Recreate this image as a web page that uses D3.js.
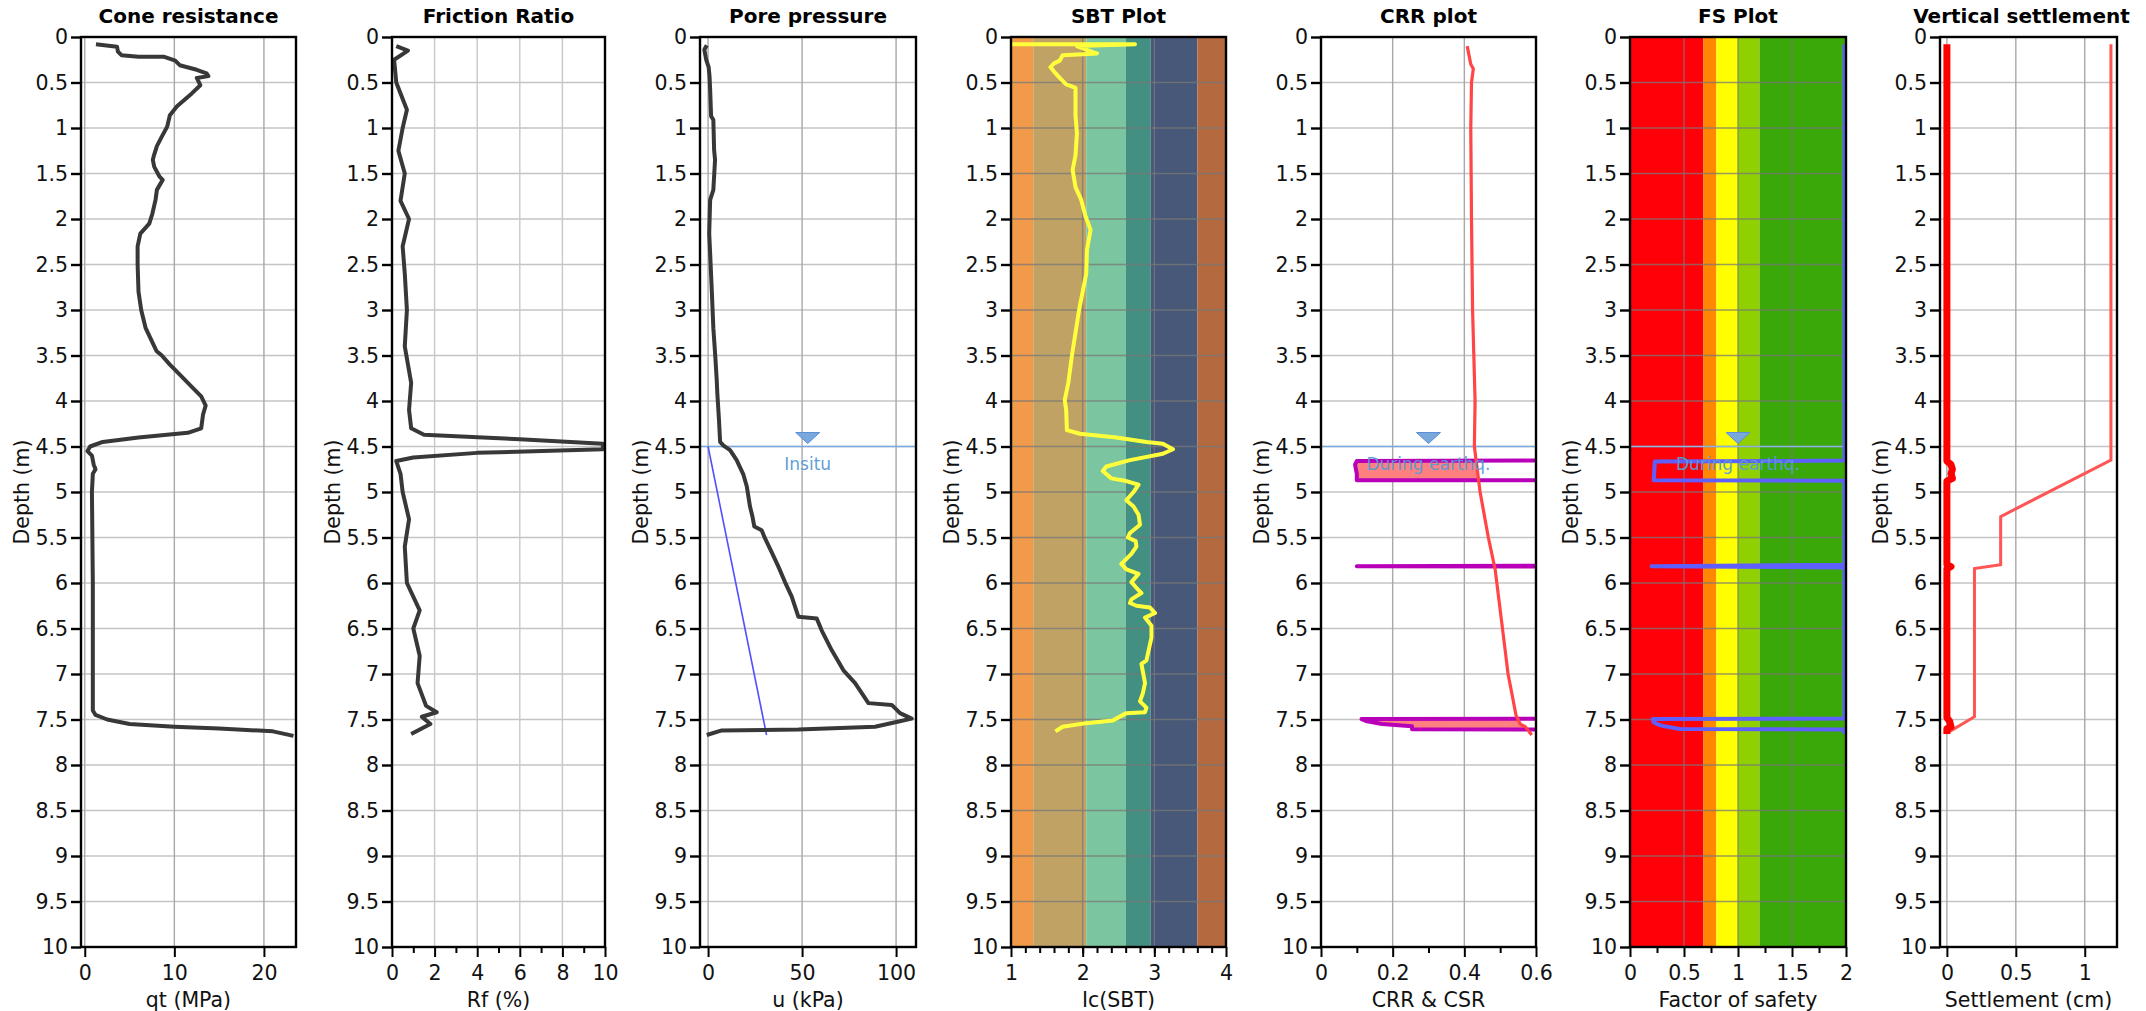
<!DOCTYPE html>
<html><head><meta charset="utf-8">
<script src="https://cdn.jsdelivr.net/npm/d3@7"></script>
<style>
html,body{margin:0;padding:0;background:#fff;}
svg{display:block;font-family:"DejaVu Sans",Verdana,sans-serif;}
</style></head><body>
<svg id="chart" width="2146" height="1011"></svg>
<script>
// ---------------- DATA ----------------
const depthTicks = [0,0.5,1,1.5,2,2.5,3,3.5,4,4.5,5,5.5,6,6.5,7,7.5,8,8.5,9,9.5,10];
const coneTicks = [0,10,20];
const rfTicks = [0,2,4,6,8,10];
const uTicks = [0,50,100];
const icTicks = [1,2,3,4];
const crrTicks = [0,0.2,0.4,0.6];
const fsTicks = [0,0.5,1,1.5,2];
const settleTicks = [0,0.5,1];

// [depth (m), qt (MPa)]
const coneResistance = [[0.08,1.25],[0.107,3.6],[0.16,3.7],[0.2,4.1],[0.216,6],[0.216,8.8],[0.26,10.1],[0.31,10.6],[0.36,12.5],[0.40,13.6],[0.43,13.8],[0.45,12.5],[0.53,12.9],[0.62,11.95],[0.76,10.3],[0.86,9.5],[0.985,9.2],[1.095,8.6],[1.2,8.05],[1.31,7.7],[1.35,7.6],[1.425,7.75],[1.535,8.35],[1.57,8.7],[1.68,8.05],[1.79,7.9],[1.94,7.55],[2.05,7.2],[2.16,6.2],[2.3,5.9],[2.5,5.9],[2.8,6.0],[3.0,6.3],[3.2,6.8],[3.45,8.0],[3.5,8.6],[3.6,9.5],[3.7,10.5],[3.85,12.0],[3.95,13.0],[4.05,13.5],[4.15,13.2],[4.3,13.0],[4.35,11.5],[4.4,6],[4.45,2],[4.5,0.6],[4.55,0.3],[4.6,0.8],[4.7,1.0],[4.75,1.2],[4.8,0.9],[5.0,0.8],[6.0,0.9],[7.0,0.9],[7.4,0.9],[7.45,1.2],[7.5,2.5],[7.55,5],[7.58,10],[7.6,15],[7.63,21],[7.68,23.3]];
// [depth (m), Rf (%)]
const frictionRatio = [[0.1,0.2],[0.15,0.75],[0.25,0.1],[0.5,0.2],[0.8,0.7],[1.0,0.5],[1.25,0.3],[1.5,0.6],[1.8,0.4],[2.0,0.8],[2.3,0.5],[2.6,0.6],[3.0,0.7],[3.4,0.6],[3.8,0.9],[4.1,0.8],[4.3,0.9],[4.37,1.5],[4.42,6],[4.47,9.9],[4.53,9.9],[4.57,4],[4.62,1],[4.66,0.2],[4.8,0.4],[5.0,0.5],[5.3,0.8],[5.6,0.6],[6.0,0.7],[6.3,1.3],[6.5,1.0],[6.8,1.3],[7.1,1.2],[7.35,1.6],[7.42,2.1],[7.47,1.4],[7.55,1.8],[7.66,0.9]];
// [depth (m), u (kPa)]
const porePressure = [[0.09,-0.7],[0.14,-2],[0.25,-1],[0.33,0.3],[0.44,0.8],[0.58,1.1],[0.87,1.6],[0.91,2.8],[1.24,3.2],[1.35,3.7],[1.68,2.8],[1.79,1.1],[2.16,0.6],[2.38,1.1],[2.8,2.0],[3.2,2.8],[3.5,3.8],[3.77,4.6],[3.91,4.9],[4.21,5.8],[4.45,6.4],[4.49,8.2],[4.54,11.7],[4.65,15.2],[4.81,18.8],[4.94,20.6],[5.16,22.3],[5.27,23.6],[5.38,24.6],[5.42,28.5],[5.51,30.3],[5.66,33.8],[5.82,37.4],[5.99,40.9],[6.15,44.5],[6.37,48],[6.39,57.8],[6.52,60.4],[6.74,65.8],[6.96,72],[7.1,78.2],[7.32,85.3],[7.34,97.7],[7.43,102.1],[7.49,108.3],[7.52,102],[7.58,88.8],[7.61,48],[7.62,7.3],[7.67,-0.7]];
const hydrostatic = [[4.5,0],[7.67,31.1]];
// [depth (m), Ic]
const sbtIc = [[0.08,1.0],[0.08,2.73],[0.1,1.92],[0.17,2.15],[0.18,2.2],[0.19,2.0],[0.2,1.72],[0.26,1.68],[0.29,1.6],[0.33,1.55],[0.38,1.6],[0.45,1.68],[0.52,1.77],[0.56,1.9],[0.86,1.9],[1.06,1.92],[1.3,1.9],[1.46,1.86],[1.65,1.9],[1.79,1.98],[1.97,2.04],[2.12,2.11],[2.34,2.06],[2.6,2.05],[3.0,1.95],[3.5,1.85],[3.8,1.8],[3.99,1.75],[4.1,1.77],[4.32,1.78],[4.36,1.96],[4.4,2.47],[4.45,2.89],[4.47,3.12],[4.53,3.26],[4.58,3.12],[4.65,2.66],[4.72,2.33],[4.77,2.28],[4.85,2.4],[4.88,2.61],[4.92,2.78],[5.0,2.71],[5.09,2.61],[5.16,2.71],[5.25,2.78],[5.36,2.8],[5.45,2.66],[5.5,2.63],[5.54,2.74],[5.6,2.75],[5.68,2.68],[5.79,2.54],[5.85,2.61],[5.9,2.78],[5.99,2.68],[6.08,2.78],[6.11,2.82],[6.18,2.68],[6.22,2.66],[6.25,2.75],[6.27,2.94],[6.33,3.01],[6.38,2.87],[6.47,2.96],[6.6,2.96],[6.74,2.92],[6.85,2.89],[6.89,2.82],[7.1,2.87],[7.21,2.84],[7.3,2.8],[7.37,2.89],[7.42,2.87],[7.43,2.61],[7.51,2.42],[7.54,2.05],[7.58,1.72],[7.63,1.62]];
const sbtZoneBounds = [1,1.31,2.05,2.6,2.95,3.6,4];
const sbtZoneColors = ["#F09A4A","#C1A265","#7BC6A0","#438F82","#485878","#B5693F"];
// [depth (m), CSR]
const csr = [[0.1,0.408],[0.3,0.418],[0.35,0.425],[0.5,0.42],[1.0,0.418],[2.0,0.42],[3.0,0.423],[4.0,0.43],[4.5,0.428],[5.0,0.444],[5.5,0.467],[5.85,0.486],[6.74,0.514],[7.0,0.522],[7.2,0.532],[7.45,0.544],[7.55,0.556],[7.58,0.57],[7.67,0.588]];
// [depth (m), CRR]
const crr = [[4.64,2],[4.66,0.1],[4.7,0.095],[4.8,0.1],[4.87,0.1],[4.875,2],[5.80,2],[5.815,0.1],[5.83,2],[7.48,2],[7.495,0.113],[7.52,0.129],[7.55,0.17],[7.575,0.254],[7.608,0.254],[7.612,2]];
// [depth (m), FS]
const factorOfSafety = [[0.08,2],[4.655,2],[4.665,0.23],[4.87,0.22],[4.875,2],[5.80,2],[5.815,0.2],[5.83,2],[7.49,2],[7.495,0.21],[7.53,0.22],[7.55,0.25],[7.57,0.3],[7.605,0.46],[7.61,2],[7.66,2]];
const fsZoneBounds = [0,0.68,0.8,1,1.2,2];
const fsZoneColors = ["#FF0008","#FF8800","#FFFF00","#90D000","#3AA808"];
// [depth (m), settlement (cm)]
const layerSettlement = [[0.08,0],[4.66,0],[4.7,0.03],[4.75,0.04],[4.8,0.03],[4.85,0.04],[4.88,0],[5.8,0],[5.82,0.03],[5.84,0],[7.48,0],[7.52,0.02],[7.58,0.03],[7.6,0],[7.66,0]];
const cumulativeSettlement = [[0.08,1.19],[4.65,1.19],[5.27,0.39],[5.8,0.39],[5.84,0.2],[7.47,0.2],[7.65,0.0],[7.66,0.0]];
const waterTable = 4.5;

// ---------------- LAYOUT ----------------
const svg = d3.select("#chart");
const topY = 37, bottomY = 947;
const y = d3.scaleLinear().domain([0,10]).range([topY,bottomY]);
const TICK_FS = 20.5, LABEL_FS = 20.5, TITLE_FS = 20;

const panels = [
  {title:"Cone resistance", xlabel:"qt (MPa)", left:81, width:215, domain:[-0.42,23.58], ticks:coneTicks, minor:[], gridVals:coneTicks},
  {title:"Friction Ratio", xlabel:"Rf (%)", left:392, width:213, domain:[0,10], ticks:rfTicks, minor:[1,3,5,7,9], gridVals:[2,4,6,8]},
  {title:"Pore pressure", xlabel:"u (kPa)", left:700, width:216, domain:[-4.3,110.6], ticks:uTicks, minor:[], gridVals:uTicks},
  {title:"SBT Plot", xlabel:"Ic(SBT)", left:1011, width:215, domain:[1,4], ticks:icTicks, minor:d3.range(1.2,3.95,0.2), gridVals:[2,3]},
  {title:"CRR plot", xlabel:"CRR & CSR", left:1321, width:215, domain:[0,0.6], ticks:crrTicks, minor:[0.1,0.3,0.5], gridVals:[0.2,0.4]},
  {title:"FS Plot", xlabel:"Factor of safety", left:1630, width:216, domain:[0,2], ticks:fsTicks, minor:[0.25,0.75,1.25,1.75], gridVals:[0.5,1,1.5]},
  {title:"Vertical settlement", xlabel:"Settlement (cm)", left:1940, width:177, domain:[-0.05,1.234], ticks:settleTicks, minor:[], gridVals:settleTicks, titleShift:-7}
];

panels.forEach((p,i)=>{
  p.x = d3.scaleLinear().domain(p.domain).range([p.left, p.left+p.width]);
  const g = svg.append("g");
  const cid = "clip"+i;
  svg.append("clipPath").attr("id",cid).append("rect")
    .attr("x",p.left).attr("y",topY).attr("width",p.width).attr("height",bottomY-topY);
  p.back = g.append("g");
  p.gridG = g.append("g");
  p.data = g.append("g").attr("clip-path", "url(#"+cid+")");
  p.front = g.append("g");
});

// Background bands
const sbt = panels[3];
sbtZoneColors.forEach((c,k)=>{
  sbt.back.append("rect").attr("x",sbt.x(sbtZoneBounds[k])).attr("y",topY)
    .attr("width",sbt.x(sbtZoneBounds[k+1])-sbt.x(sbtZoneBounds[k])).attr("height",bottomY-topY).attr("fill",c);
});
const fsP = panels[5];
fsZoneColors.forEach((c,k)=>{
  fsP.back.append("rect").attr("x",fsP.x(fsZoneBounds[k])).attr("y",topY)
    .attr("width",fsP.x(fsZoneBounds[k+1])-fsP.x(fsZoneBounds[k])).attr("height",bottomY-topY).attr("fill",c);
});

// grids, axes, titles
panels.forEach((p,i)=>{
  const colored = (i===3||i===5);
  p.gridG.selectAll("line.h").data(depthTicks).join("line").attr("class","h")
    .attr("x1",p.left).attr("x2",p.left+p.width).attr("y1",d=>y(d)).attr("y2",d=>y(d))
    .attr("stroke", colored? "rgba(120,120,120,0.75)" : "#C4C4C4").attr("stroke-width",1.6);
  p.gridG.selectAll("line.vg").data(p.gridVals).join("line").attr("class","vg")
    .attr("x1",d=>p.x(d)).attr("x2",d=>p.x(d)).attr("y1",topY).attr("y2",bottomY)
    .attr("stroke", colored? "rgba(120,120,120,0.75)" : (i===1?"#C8C8C8":"#A8A8A8")).attr("stroke-width",1.4);

  // frame
  p.front.append("rect").attr("x",p.left).attr("y",topY).attr("width",p.width).attr("height",bottomY-topY)
    .attr("fill","none").attr("stroke","#000").attr("stroke-width",2.4);

  // y axis
  const ya = d3.axisLeft(y).tickValues(depthTicks).tickSize(10).tickPadding(3).tickFormat(d=>d3.format("~g")(d));
  const yg = p.front.append("g").attr("transform",`translate(${p.left},0)`).call(ya);
  yg.select(".domain").remove();
  yg.selectAll(".tick line").attr("stroke","#000").attr("stroke-width",2.4);
  yg.selectAll(".tick text").attr("font-size",TICK_FS).attr("font-family","DejaVu Sans").attr("fill","#111");

  // x axis
  const xa = d3.axisBottom(p.x).tickValues(p.ticks).tickSize(10).tickPadding(8).tickFormat(d=>d3.format("~g")(d));
  const xg = p.front.append("g").attr("transform",`translate(0,${bottomY})`).call(xa);
  xg.select(".domain").remove();
  xg.selectAll(".tick line").attr("stroke","#000").attr("stroke-width",2);
  xg.selectAll(".tick text").attr("font-size",TICK_FS).attr("font-family","DejaVu Sans").attr("fill","#111");
  if (p.minor.length){
    const mg = p.front.append("g").attr("transform",`translate(0,${bottomY})`)
      .call(d3.axisBottom(p.x).tickValues(p.minor).tickSize(6).tickFormat(""));
    mg.select(".domain").remove();
    mg.selectAll(".tick line").attr("stroke","#000").attr("stroke-width",2);
  }

  // titles
  p.front.append("text").attr("x",p.left+p.width/2+(p.titleShift||0)).attr("y",23)
    .attr("text-anchor","middle").attr("font-weight","bold").attr("font-size",TITLE_FS).text(p.title);
  p.front.append("text").attr("x",p.left+p.width/2).attr("y",1007)
    .attr("text-anchor","middle").attr("font-size",LABEL_FS).attr("fill","#111").text(p.xlabel);
  p.front.append("text").attr("transform",`translate(${p.left-59},${(topY+bottomY)/2}) rotate(-90)`)
    .attr("text-anchor","middle").attr("dy","0.35em").attr("font-size",LABEL_FS).attr("fill","#111").text("Depth (m)");
});

function lineFor(p){ return d3.line().x(d=>p.x(d[1])).y(d=>y(d[0])); }

// Cone / Rf / u
panels[0].data.append("path").datum(coneResistance).attr("d",lineFor(panels[0]))
  .attr("fill","none").attr("stroke","#383838").attr("stroke-width",4).attr("stroke-linejoin","round");
panels[1].data.append("path").datum(frictionRatio).attr("d",lineFor(panels[1]))
  .attr("fill","none").attr("stroke","#383838").attr("stroke-width",4).attr("stroke-linejoin","round");
const pu = panels[2];
pu.data.append("line").attr("x1",pu.left).attr("x2",pu.left+pu.width).attr("y1",y(waterTable)).attr("y2",y(waterTable))
  .attr("stroke","#7BAAE0").attr("stroke-width",1.6);
pu.data.append("path").datum(hydrostatic).attr("d",lineFor(pu)).attr("fill","none").attr("stroke","#5050FF").attr("stroke-width",1.6);
pu.data.append("path").datum(porePressure).attr("d",lineFor(pu))
  .attr("fill","none").attr("stroke","#383838").attr("stroke-width",4).attr("stroke-linejoin","round");

// SBT
sbt.data.append("path").datum(sbtIc).attr("d",lineFor(sbt))
  .attr("fill","none").attr("stroke","#FFFF3C").attr("stroke-width",4).attr("stroke-linejoin","round");

// CRR
const pc = panels[4];
const csrScale = d3.scaleLinear().domain(csr.map(d=>d[0])).range(csr.map(d=>d[1])).clamp(true);
let runs=[], cur=[];
crr.forEach(d=>{ if (d[1] < csrScale(d[0])) cur.push(d); else { if(cur.length>1) runs.push(cur); cur=[]; } });
if(cur.length>1) runs.push(cur);
runs.forEach(r=>{
  pc.data.append("path").datum(r).attr("d", d3.area().y(d=>y(d[0])).x0(d=>pc.x(d[1])).x1(d=>pc.x(csrScale(d[0]))))
    .attr("fill","#FF8080");
});
pc.data.append("line").attr("x1",pc.left).attr("x2",pc.left+pc.width).attr("y1",y(waterTable)).attr("y2",y(waterTable))
  .attr("stroke","#7BAAE0").attr("stroke-width",1.6);
pc.data.append("path").datum(crr).attr("d",lineFor(pc)).attr("fill","none").attr("stroke","#B800B8").attr("stroke-width",4).attr("stroke-linejoin","round");
pc.data.append("path").datum(csr).attr("d",lineFor(pc)).attr("fill","none").attr("stroke","#FF4545").attr("stroke-width",3.2).attr("stroke-linejoin","round");

// FS
fsP.data.append("line").attr("x1",fsP.left).attr("x2",fsP.left+fsP.width).attr("y1",y(waterTable)).attr("y2",y(waterTable))
  .attr("stroke","#8EB4E6").attr("stroke-width",1.6);
fsP.data.append("path").datum(factorOfSafety).attr("d",d3.line().x(d=>Math.min(fsP.x(d[1]),fsP.left+fsP.width-1.5)).y(d=>y(d[0])))
  .attr("fill","none").attr("stroke","#5F5FFF").attr("stroke-width",4).attr("stroke-linejoin","round");

// Settlement
const ps = panels[6];
ps.data.append("path").datum(cumulativeSettlement).attr("d",lineFor(ps)).attr("fill","none").attr("stroke","#FF5555").attr("stroke-width",3);
ps.data.append("path").datum(layerSettlement).attr("d",lineFor(ps)).attr("fill","none").attr("stroke","#FF0000").attr("stroke-width",7).attr("stroke-linejoin","round");

// water table markers
[[pu,53,"Insitu"],[pc,0.3,"During earthq."],[fsP,1.0,"During earthq."]].forEach(([p,xv,lab])=>{
  const cx = p.x(xv), cy = y(waterTable);
  p.front.append("path").attr("d",`M${cx-12},${cy-14}L${cx+12},${cy-14}L${cx},${cy-3}Z`)
    .attr("fill","#7AA7DC").attr("stroke","#5B8FD6").attr("stroke-width",1);
  p.front.append("text").attr("x",cx).attr("y",cy+23).attr("text-anchor","middle").attr("font-size",17)
    .attr("fill","#5B9BD5").attr("opacity",0.95).text(lab);
});
</script>
</body></html>
